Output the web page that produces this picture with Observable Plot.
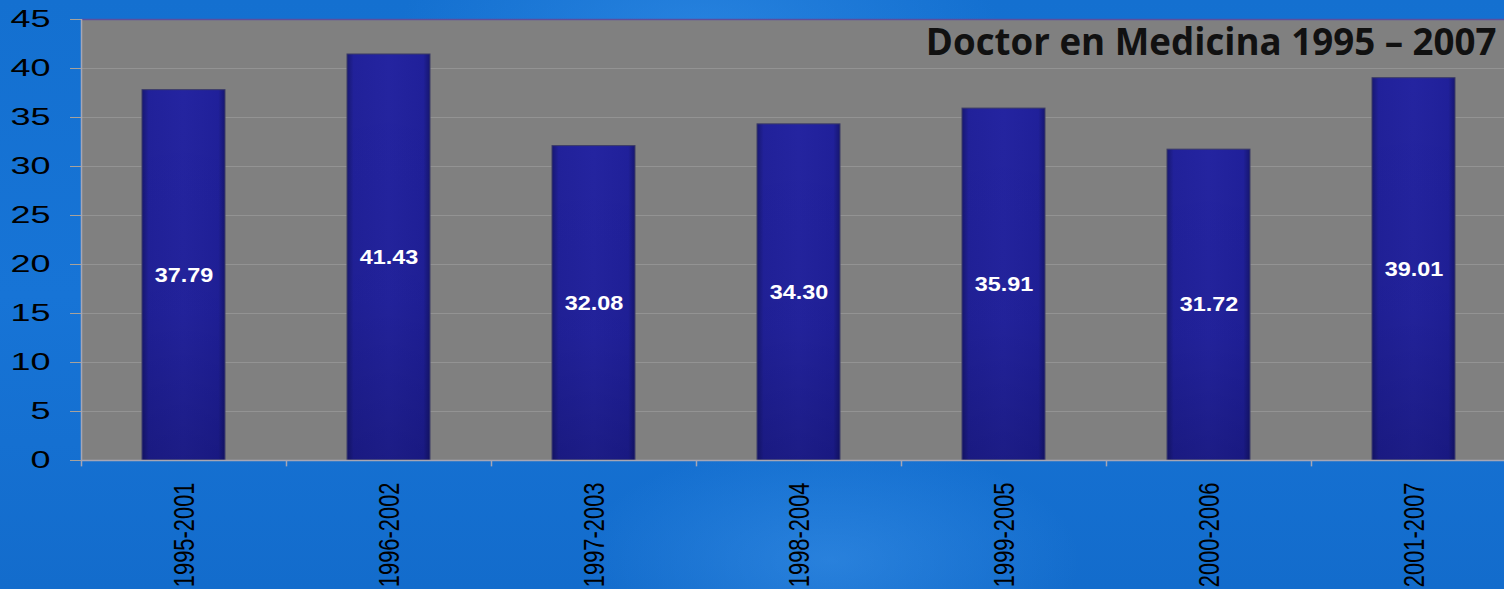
<!DOCTYPE html>
<html>
<head>
<meta charset="utf-8">
<script src="https://cdn.jsdelivr.net/npm/d3@7"></script>
<script src="https://cdn.jsdelivr.net/npm/@observablehq/plot@0.6"></script>
<style>
  html, body { margin: 0; padding: 0; width: 1504px; height: 589px; overflow: hidden; }
  body {
    background:
      radial-gradient(ellipse 300px 140px at 700px 30px, rgba(80,170,255,0.30), rgba(80,170,255,0) 100%),
      radial-gradient(ellipse 250px 120px at 830px 560px, rgba(90,175,255,0.30), rgba(90,175,255,0) 100%),
      linear-gradient(180deg, #1470d0 0%, #1774d6 50%, #136ccc 100%);
  }
  #chart svg { display: block; overflow: visible; max-width: none !important; }
</style>
</head>
<body>
<div id="chart"></div>
<script>
const periods = ["1995-2001", "1996-2002", "1997-2003", "1998-2004", "1999-2005", "2000-2006", "2001-2007"];
const values = [37.79, 41.43, 32.08, 34.30, 35.91, 31.72, 39.01];
const yTicks = [0, 5, 10, 15, 20, 25, 30, 35, 40, 45];
const title = "Doctor en Medicina 1995 – 2007";

const data = periods.map((p, i) => ({period: p, value: values[i], label: values[i].toFixed(2)}));

const W = 1520, ML = 81, MR = 4;
const step = (W - ML - MR) / periods.length;
const font = "'Liberation Sans', Arial, sans-serif";

const chart = Plot.plot({
  width: W,
  height: 589,
  marginLeft: ML,
  marginRight: MR,
  marginTop: 19,
  marginBottom: 129,
  style: {background: "transparent", fontFamily: font, color: "#000"},
  x: {domain: periods, paddingInner: 0.595, paddingOuter: 0.2975, label: null, axis: null},
  y: {domain: [0, 45], ticks: yTicks, label: null, axis: null},
  marks: [
    Plot.frame({fill: "#808080", stroke: null}),
    Plot.gridY(yTicks.filter(t => t > 0 && t < 45), {stroke: "#979797", strokeOpacity: 0.8, strokeWidth: 1}),
    Plot.ruleY([45], {stroke: "#5b4f9e", strokeWidth: 1.5}),
    Plot.axisY(yTicks, {tickSize: 11, tickPadding: 20, fontSize: 24, stroke: "#a8a29a", fill: "#000", label: null}),
    Plot.ruleX([periods[0]], {x: d => d, dx: -step / 2, y1: 0, y2: 45, stroke: "#a6a6b4", strokeWidth: 1.5}),
    Plot.barY(data, {x: "period", y: "value", fill: "url(#barGrad)", stroke: "#3c3c66", strokeWidth: 1}),
    Plot.barY(data, {x: "period", y: "value", fill: "url(#shadeGrad)", insetLeft: 1, insetRight: 1}),
    Plot.tickY(data, {x: "period", y: "value", stroke: "url(#capGrad)", strokeWidth: 4, dy: 3, insetLeft: 4, insetRight: 4}),
    Plot.text(data, {x: "period", y: d => d.value / 2, text: "label", fill: "white", fontWeight: "bold", fontSize: 19.5, fontFamily: font}),
    Plot.ruleY([0], {stroke: "#a6a6b4", strokeWidth: 1.5}),
    Plot.ruleX(periods, {x: d => d, dx: -step / 2, y1: 0, y2: -0.65, stroke: "#a6a6b4", strokeWidth: 1.5}),
    Plot.axisX({tickRotate: -90, tickSize: 0, tickPadding: 22, fontSize: 30, fill: "#000", label: null, tickFormat: d => d}),
    Plot.text([title], {frameAnchor: "top-right", dx: -20, dy: 9, text: d => d, fontSize: 36.7, fontWeight: "bold", fill: "#111", fontFamily: "'Open Sans', sans-serif", textAnchor: "end", lineAnchor: "top"})
  ]
});

// gradients for the bevelled bars
const svg = d3.select(chart);
const defs = svg.insert("defs", ":first-child");
const g = defs.append("linearGradient").attr("id", "barGrad").attr("x1", 0).attr("x2", 1).attr("y1", 0).attr("y2", 0);
g.append("stop").attr("offset", "0%").attr("stop-color", "#181872");
g.append("stop").attr("offset", "8%").attr("stop-color", "#21219a");
g.append("stop").attr("offset", "50%").attr("stop-color", "#2424a0");
g.append("stop").attr("offset", "92%").attr("stop-color", "#20209a");
g.append("stop").attr("offset", "100%").attr("stop-color", "#161670");
const s = defs.append("linearGradient").attr("id", "shadeGrad").attr("x1", 0).attr("x2", 0).attr("y1", 0).attr("y2", 1);
s.append("stop").attr("offset", "0%").attr("stop-color", "#000028").attr("stop-opacity", 0);
s.append("stop").attr("offset", "60%").attr("stop-color", "#000028").attr("stop-opacity", 0.05);
s.append("stop").attr("offset", "100%").attr("stop-color", "#000028").attr("stop-opacity", 0.22);
const c = defs.append("linearGradient").attr("id", "capGrad").attr("x1", 0).attr("x2", 1).attr("y1", 0).attr("y2", 0);
c.append("stop").attr("offset", "0%").attr("stop-color", "#3a3ac0");
c.append("stop").attr("offset", "15%").attr("stop-color", "#5c5ce8");
c.append("stop").attr("offset", "85%").attr("stop-color", "#5c5ce8");
c.append("stop").attr("offset", "100%").attr("stop-color", "#3a3ac0");

document.getElementById("chart").append(chart);

// the reference's text is horizontally stretched: emulate it with textLength
function stretch(selector, fn) {
  svg.selectAll(selector).each(function() {
    const len = this.getComputedTextLength();
    this.setAttribute("textLength", fn(len, this));
    this.setAttribute("lengthAdjust", "spacingAndGlyphs");
  });
}
stretch('g[aria-label="y-axis tick label"] text', len => len * 1.5);
stretch('g[aria-label="x-axis tick label"] text', len => len * 0.73);
svg.selectAll('g[aria-label="text"] text').filter(function() { return this.textContent !== title; }).each(function() {
  const len = this.getComputedTextLength();
  this.setAttribute("textLength", len * 1.2);
  this.setAttribute("lengthAdjust", "spacingAndGlyphs");
});
</script>
</body>
</html>
